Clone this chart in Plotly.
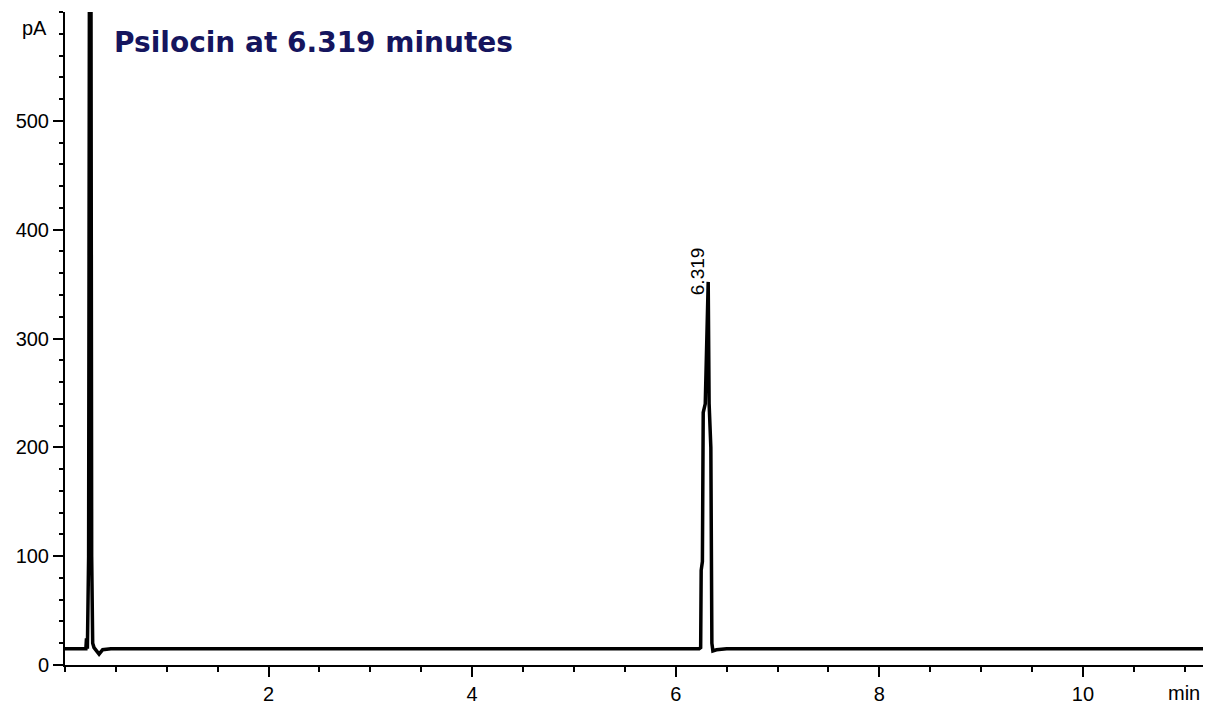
import plotly.graph_objects as go

# Chromatogram trace (time in minutes, signal in pA)
time_min = [0.00, 0.205, 0.21, 0.215, 0.22, 0.232, 0.240, 0.255, 0.262, 0.272, 0.285, 0.30,
            0.335, 0.37, 0.45, 1.0, 2.0, 3.0, 4.0, 5.0, 6.0, 6.23, 6.245, 6.25, 6.262,
            6.27, 6.29, 6.31, 6.319, 6.328, 6.335, 6.345, 6.355, 6.365, 6.40, 6.5, 7.0,
            8.0, 9.0, 10.0, 11.18]
signal_pa = [15, 15, 23, 23, 15, 100, 640, 640, 100, 20, 16, 14,
             10, 14, 15, 15, 15, 15, 15, 15, 15, 15, 16, 87, 95,
             232, 240, 330, 352, 240, 213, 200, 20, 13, 14, 15, 15,
             15, 15, 15, 15]

y_tick_vals = [0, 100, 200, 300, 400, 500]
x_tick_vals = [2, 4, 6, 8, 10]
peak_time = 6.319
peak_label = "6.319"
title_text = "Psilocin at 6.319 minutes"

fig = go.Figure()
fig.add_trace(go.Scatter(x=time_min, y=signal_pa, mode="lines",
                         line=dict(color="black", width=3.5), hoverinfo="skip"))

# the page body adds an 8px margin, so the figure is sized/offset to compensate
fig.update_layout(
    width=1205, height=703,
    margin=dict(l=57, r=10, t=4, b=46),
    paper_bgcolor="white", plot_bgcolor="white",
    showlegend=False,
    font=dict(family="Liberation Sans, Arial, sans-serif", size=20, color="black"),
)

fig.update_xaxes(
    range=[0, 11.18], showgrid=False, zeroline=False,
    showline=True, linecolor="black", linewidth=2,
    tickmode="array", tickvals=x_tick_vals, ticktext=[str(v) for v in x_tick_vals],
    ticks="outside", ticklen=10, tickwidth=2, tickcolor="black",
    minor=dict(dtick=0.5, tick0=0, ticks="outside", ticklen=5, tickwidth=2, tickcolor="black"),
)
fig.update_yaxes(
    range=[0, 600], showgrid=False, zeroline=False,
    showline=True, linecolor="black", linewidth=2,
    tickmode="array", tickvals=y_tick_vals, ticktext=[str(v) for v in y_tick_vals],
    ticks="outside", ticklen=10, tickwidth=2, tickcolor="black",
    minor=dict(dtick=20, tick0=0, ticks="outside", ticklen=4, tickwidth=2, tickcolor="black"),
)

# axis unit labels
fig.add_annotation(text="pA", xref="paper", yref="paper", x=-0.014, y=0.975,
                   xanchor="right", yanchor="middle", showarrow=False,
                   font=dict(size=20, color="black"))
fig.add_annotation(text="min", xref="paper", yref="paper", x=0.9995, y=-0.043,
                   xanchor="right", yanchor="middle", showarrow=False,
                   font=dict(size=20, color="black"))

# peak label
fig.add_annotation(text=peak_label, x=peak_time, y=362, xref="x", yref="y",
                   xshift=-11, textangle=-90, showarrow=False,
                   xanchor="center", yanchor="middle",
                   font=dict(size=19, color="black"))

# title
fig.add_annotation(text="<b>" + title_text + "</b>", xref="paper", yref="paper",
                   x=0.041, y=0.954, xanchor="left", yanchor="middle", showarrow=False,
                   font=dict(family="DejaVu Sans, Verdana, sans-serif", size=28, color="#15155e"))

fig.write_html("out.html")
